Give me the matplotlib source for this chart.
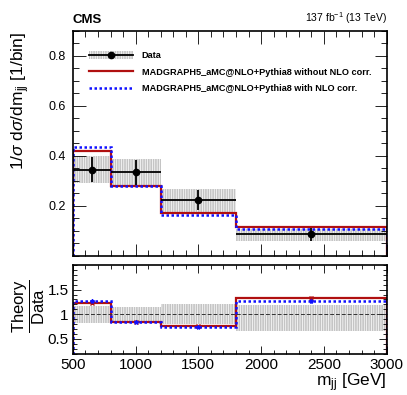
import numpy as np
import matplotlib
matplotlib.use("Agg")
import matplotlib.pyplot as plt
from matplotlib.patches import Patch
from matplotlib.lines import Line2D
from matplotlib.ticker import MultipleLocator

plt.rcParams['font.family'] = ['Liberation Sans', 'DejaVu Sans']
plt.rcParams['mathtext.fontset'] = 'custom'
plt.rcParams['mathtext.rm'] = 'Liberation Sans'
plt.rcParams['mathtext.it'] = 'Liberation Sans:italic'
plt.rcParams['mathtext.bf'] = 'Liberation Sans:bold'
plt.rcParams['hatch.linewidth'] = 1.2

# ---- data ----
bin_edges = [500, 800, 1200, 1800, 3000]
data_vals = [0.345, 0.334, 0.225, 0.086]
data_err = [0.050, 0.050, 0.040, 0.026]
data_band_lo = [0.290, 0.277, 0.175, 0.059]
data_band_hi = [0.399, 0.387, 0.269, 0.107]
mg_no_nlo = [0.420, 0.278, 0.171, 0.115]
mg_nlo = [0.436, 0.278, 0.165, 0.107]

ratio_no_nlo = [1.225, 0.84, 0.76, 1.33]
ratio_nlo = [1.26, 0.84, 0.745, 1.26]
ratio_err_no_nlo = [0.02, 0.015, 0.015, 0.04]
ratio_err_nlo = [0.02, 0.015, 0.015, 0.03]
ratio_band_lo = [0.82, 0.82, 0.81, 0.66]
ratio_band_hi = [1.165, 1.15, 1.20, 1.185]

edges = np.array(bin_edges, dtype=float)
centers = 0.5 * (edges[:-1] + edges[1:])
halfw = 0.5 * (edges[1:] - edges[:-1])
widths = edges[1:] - edges[:-1]

RED = '#b01010'
BLUE = '#1010ff'
HATCH_COL = '#c4c4c4'
HATCH = '|||||||'

fig = plt.figure(figsize=(4.07, 3.95), dpi=100)
ax = fig.add_axes([0.179, 0.352, 0.771, 0.570])
rax = fig.add_axes([0.179, 0.1046, 0.771, 0.2245])

# main panel
lo = np.array(data_band_lo); hi = np.array(data_band_hi)
ax.bar(edges[:-1], hi - lo, bottom=lo, width=widths, align='edge', fill=False,
       hatch=HATCH, edgecolor=HATCH_COL, linewidth=0)
ax.stairs(mg_no_nlo, edges, baseline=0, color=RED, linewidth=1.6)
ax.stairs(mg_nlo, edges, baseline=0, color=BLUE, linewidth=1.8, linestyle=(0, (1, 1)))
ax.errorbar(centers, data_vals, yerr=data_err, xerr=halfw, fmt='o', color='black',
            markersize=4.5, elinewidth=1.3, capsize=0)

ax.set_xlim(500, 3000)
ax.set_ylim(0, 0.9)
ax.xaxis.set_major_locator(MultipleLocator(500))
ax.xaxis.set_minor_locator(MultipleLocator(100))
ax.yaxis.set_major_locator(MultipleLocator(0.2))
ax.yaxis.set_minor_locator(MultipleLocator(0.05))
ax.tick_params(axis='both', which='both', direction='in', top=True, right=True, width=0.6)
ax.tick_params(axis='both', which='major', length=9)
ax.tick_params(axis='both', which='minor', length=4.5)
ax.tick_params(axis='x', labelbottom=False)
ax.tick_params(axis='y', labelsize=9, pad=5)
ax.set_yticks([0.2, 0.4, 0.6, 0.8])
for s in ax.spines.values():
    s.set_linewidth(1.2)

# legend
h_data = (Patch(facecolor='none', edgecolor=HATCH_COL, hatch=HATCH, linewidth=0),
          Line2D([], [], color='black', marker='o', markersize=4.5, linewidth=1.3))
h_red = Line2D([], [], color=RED, linewidth=1.6)
h_blue = Line2D([], [], color=BLUE, linewidth=1.8, linestyle=(0, (1, 1)))
leg = ax.legend([h_data, h_red, h_blue],
                ['Data', 'MADGRAPH5_aMC@NLO+Pythia8 without NLO corr.',
                 'MADGRAPH5_aMC@NLO+Pythia8 with NLO corr.'],
                loc='upper left', bbox_to_anchor=(0.05, 0.91), frameon=False,
                prop={'weight': 'bold', 'size': 6.6}, handlelength=4.8,
                handletextpad=1.0, labelspacing=0.8, borderpad=0, borderaxespad=0,
                handleheight=1.0)

fig.text(0.179, 0.935, 'CMS', fontsize=9.5, fontweight='bold', ha='left', va='bottom')
fig.text(0.950, 0.935, r'137 fb$^{-1}$ (13 TeV)', fontsize=7.5, ha='right', va='bottom')

fig.text(0.050, 0.918, r'1/$\sigma$ d$\sigma$/dm$_{\mathrm{jj}}$ [1/bin]', fontsize=12.5,
         rotation=90, ha='center', va='top')

# ratio panel
rlo = np.array(ratio_band_lo); rhi = np.array(ratio_band_hi)
rax.bar(edges[:-1], rhi - rlo, bottom=rlo, width=widths, align='edge', fill=False,
        hatch=HATCH, edgecolor=HATCH_COL, linewidth=0)
rax.axhline(1.0, color='#333333', linewidth=0.7, linestyle=(0, (4, 2)))
rax.stairs(ratio_no_nlo, edges, baseline=0, color=RED, linewidth=1.6)
rax.stairs(ratio_nlo, edges, baseline=0, color=BLUE, linewidth=1.8, linestyle=(0, (1, 1)))
rax.errorbar(centers, ratio_no_nlo, yerr=ratio_err_no_nlo, fmt='x', color=RED,
             markersize=3, elinewidth=1.0, capsize=0)
rax.errorbar(centers, ratio_nlo, yerr=ratio_err_nlo, fmt='*', color=BLUE,
             markersize=3, elinewidth=1.0, capsize=0)

rax.set_xlim(500, 3000)
rax.set_ylim(0.2, 2.0)
rax.xaxis.set_major_locator(MultipleLocator(500))
rax.xaxis.set_minor_locator(MultipleLocator(100))
rax.set_yticks([0.5, 1.0, 1.5])
rax.set_yticklabels(['0.5', '1', '1.5'])
rax.yaxis.set_minor_locator(MultipleLocator(0.1))
rax.tick_params(axis='both', which='both', direction='in', top=True, right=True, width=0.6)
rax.tick_params(axis='both', which='major', length=6)
rax.tick_params(axis='both', which='minor', length=3)
rax.tick_params(axis='both', labelsize=11, pad=3)
for s in rax.spines.values():
    s.set_linewidth(1.2)
rax.set_xlabel(r'm$_{\mathrm{jj}}$ [GeV]', fontsize=12.5, loc='right', labelpad=0)

fig.text(0.072, 0.225, r'$\dfrac{\mathrm{Theory}}{\mathrm{Data}}$', fontsize=12,
         rotation=90, ha='center', va='center')

fig.savefig('out.png', dpi=100)
